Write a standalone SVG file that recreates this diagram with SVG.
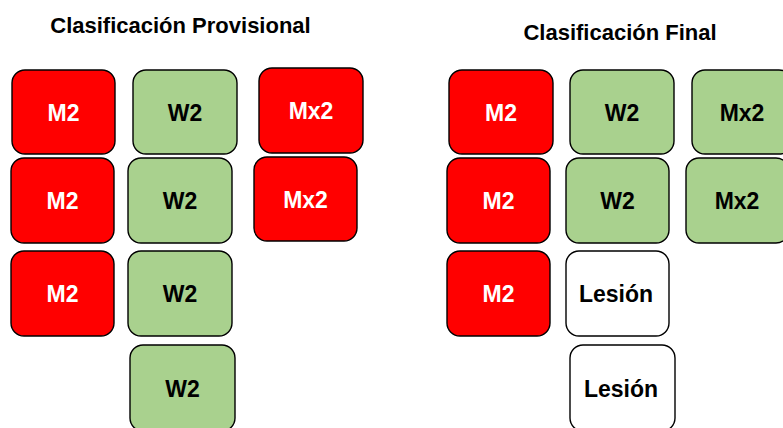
<svg xmlns="http://www.w3.org/2000/svg" width="783" height="428" viewBox="0 0 783 428">
<style>
.box{stroke:#000;stroke-width:1.4}
.red{fill:#ff0000}
.green{fill:#a9d18e}
.white{fill:#ffffff}
text{font-family:"Liberation Sans",Arial,sans-serif;font-weight:bold;text-anchor:middle}
.lbl{font-size:23px}
.lw{fill:#ffffff}
.lb{fill:#000000}
.title{font-size:22px;fill:#000}
</style>
<rect width="783" height="428" fill="#fff"/>
<text class="title" x="180.5" y="33">Clasificación Provisional</text>
<text class="title" x="620" y="40">Clasificación Final</text>

<g id="p-m2-1"><rect class="box red" x="12" y="70" width="103" height="84" rx="13"/><text class="lbl lw" x="63.5" y="120.5">M2</text></g>
<g id="p-w2-1"><rect class="box green" x="133" y="70" width="104" height="84" rx="13"/><text class="lbl lb" x="185" y="120.5">W2</text></g>
<g id="p-mx2-1"><rect class="box red" x="259" y="68" width="104" height="85" rx="13"/><text class="lbl lw" x="311" y="119">Mx2</text></g>
<g id="p-m2-2"><rect class="box red" x="11" y="158" width="103" height="85" rx="13"/><text class="lbl lw" x="62.5" y="209">M2</text></g>
<g id="p-w2-2"><rect class="box green" x="128" y="158" width="104" height="85" rx="13"/><text class="lbl lb" x="180" y="209">W2</text></g>
<g id="p-mx2-2"><rect class="box red" x="254" y="157" width="103" height="84" rx="13"/><text class="lbl lw" x="305.5" y="207.5">Mx2</text></g>
<g id="p-m2-3"><rect class="box red" x="11" y="251" width="103" height="85" rx="13"/><text class="lbl lw" x="62.5" y="302">M2</text></g>
<g id="p-w2-3"><rect class="box green" x="128" y="251" width="104" height="85" rx="13"/><text class="lbl lb" x="180" y="302">W2</text></g>
<g id="p-w2-4"><rect class="box green" x="130" y="345" width="105" height="86" rx="13"/><text class="lbl lb" x="182.5" y="396.5">W2</text></g>

<g id="f-m2-1"><rect class="box red" x="449" y="70" width="104" height="84" rx="13"/><text class="lbl lw" x="501" y="120.5">M2</text></g>
<g id="f-w2-1"><rect class="box green" x="570" y="70" width="104" height="84" rx="13"/><text class="lbl lb" x="622" y="120.5">W2</text></g>
<g id="f-mx2-1"><rect class="box green" x="692" y="70" width="100" height="84" rx="13"/><text class="lbl lb" x="742" y="120.5">Mx2</text></g>
<g id="f-m2-2"><rect class="box red" x="447" y="158" width="103" height="85" rx="13"/><text class="lbl lw" x="498.5" y="209">M2</text></g>
<g id="f-w2-2"><rect class="box green" x="566" y="158" width="103" height="85" rx="13"/><text class="lbl lb" x="617.5" y="209">W2</text></g>
<g id="f-mx2-2"><rect class="box green" x="686" y="158" width="103" height="85" rx="13"/><text class="lbl lb" x="737" y="209">Mx2</text></g>
<g id="f-m2-3"><rect class="box red" x="447" y="251" width="103" height="85" rx="13"/><text class="lbl lw" x="498.5" y="302">M2</text></g>
<g id="f-les-1"><rect class="box white" x="566" y="251" width="103" height="85" rx="13"/><text class="lbl lb" x="616" y="302">Lesión</text></g>
<g id="f-les-2"><rect class="box white" x="570" y="345" width="105" height="86" rx="13"/><text class="lbl lb" x="621" y="396.5">Lesión</text></g>
<g id="connectors"/>
</svg>
